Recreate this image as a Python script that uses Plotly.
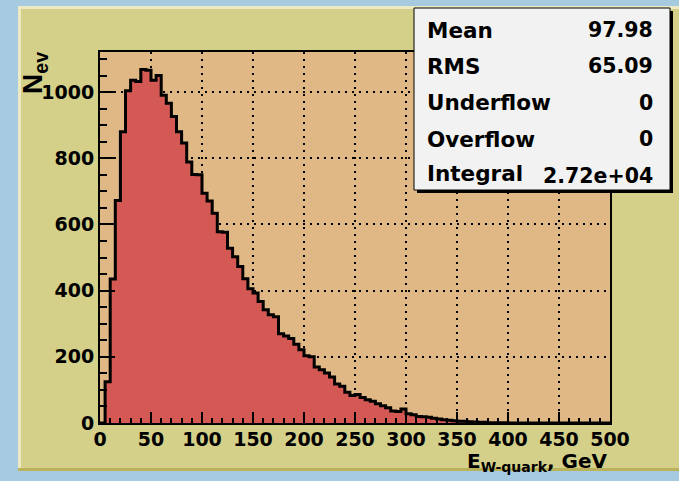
import numpy as np
import plotly.graph_objects as go

# Histogram of the W-quark energy: 100 bins of 5 GeV between 0 and 500 GeV
X_MIN, X_MAX, BIN_WIDTH = 0, 500, 5
counts = [
    0, 125, 435, 672, 880, 1004, 1036, 1032, 1068, 1066,
    1036, 1050, 990, 966, 926, 880, 846, 789, 751, 750,
    694, 671, 634, 578, 576, 528, 502, 473, 436, 406,
    393, 367, 342, 327, 321, 270, 263, 255, 238, 221,
    203, 200, 169, 161, 151, 139, 118, 111, 93, 83,
    86, 77, 70, 66, 58, 52, 46, 36, 35, 42,
    28, 25, 20, 19, 17, 14, 12, 10, 8, 7,
    5, 5, 4, 3, 2, 2, 1, 1, 1, 1,
    0, 0, 0, 0, 0, 0, 0, 0, 0, 0,
    0, 0, 0, 0, 0, 0, 0, 0, 0, 0,
]
y_max = 1121

stat_names = ["Mean", "RMS", "Underflow", "Overflow", "Integral"]
stat_values = ["97.98", "65.09", "0", "0", "2.72e+04"]

x_title = "E<sub>W-quark</sub>, GeV"
y_title = "N<sub>ev</sub>"

# colours
BLUE_BG = "#a6cbe0"
PAD = "#d4d089"
PAD_EDGE = "#ece9c3"
PAD_LOW = "#b9b25a"
FRAME = "#dfb886"
FILL = "#d45853"
STATS_BG = "#f2f2f2"

W, H = 679, 481
L, R, T, B = 100, 610, 52, 423


def px(p):
    return (p - L) / (R - L)


def py(p):
    return (B - p) / (B - T)


edges = np.arange(X_MIN, X_MAX + BIN_WIDTH, BIN_WIDTH)
xs = [X_MIN] + list(edges[:-1]) + [X_MAX, X_MAX]
ys = [0] + counts + [counts[-1], 0]

fig = go.Figure()
fig.add_trace(go.Scatter(
    x=xs, y=ys, mode="lines", line=dict(color="black", width=3, shape="hv"),
    fill="tozeroy", fillcolor=FILL, hoverinfo="skip", showlegend=False,
    cliponaxis=False,
))

shapes = [
    # pad with light bevel and darker bottom edge
    dict(type="rect", xref="paper", yref="paper", x0=px(18), x1=px(690), y0=py(6), y1=py(471),
         fillcolor=PAD_EDGE, line=dict(width=0), layer="below"),
    dict(type="rect", xref="paper", yref="paper", x0=px(21), x1=px(690), y0=py(9), y1=py(471),
         fillcolor=PAD, line=dict(width=0), layer="below"),
    dict(type="rect", xref="paper", yref="paper", x0=px(18), x1=px(690), y0=py(468), y1=py(471),
         fillcolor=PAD_LOW, line=dict(width=0), layer="below"),
    # frame
    dict(type="rect", xref="paper", yref="paper", x0=0, x1=1, y0=0, y1=1,
         fillcolor=FRAME, line=dict(width=0), layer="below"),
    # statistics box with its shadow
    dict(type="rect", xref="paper", yref="paper", x0=px(417), x1=px(673), y0=py(11), y1=py(193),
         fillcolor="black", line=dict(width=0), layer="above"),
    dict(type="rect", xref="paper", yref="paper", x0=px(414), x1=px(670), y0=py(8), y1=py(190),
         fillcolor=STATS_BG, line=dict(color="black", width=1), layer="above"),
]

annotations = []
row_y = [30, 66, 103, 139, 173]
for i, (name, val) in enumerate(zip(stat_names, stat_values)):
    annotations.append(dict(
        x=px(425), y=py(row_y[i]), xref="paper", yref="paper", text=name,
        showarrow=False, xanchor="left", yanchor="middle",
        font=dict(family="DejaVu Sans", size=21.5, color="black", weight="bold"),
    ))
    annotations.append(dict(
        x=px(655), y=py(row_y[i] + (3 if i == 4 else 0)), xref="paper", yref="paper", text=val,
        showarrow=False, xanchor="right", yanchor="middle",
        font=dict(family="DejaVu Sans", size=20.5, color="black", weight="bold"),
    ))

annotations.append(dict(
    x=px(609), y=py(462), xref="paper", yref="paper", text=x_title,
    showarrow=False, xanchor="right", yanchor="middle",
    font=dict(family="DejaVu Sans", size=20, color="black", weight="bold"),
))
annotations.append(dict(
    x=px(35), y=py(50), xref="paper", yref="paper", text=y_title, textangle=-90,
    showarrow=False, xanchor="center", yanchor="top",
    font=dict(family="Liberation Sans", size=28, color="black", weight="bold"),
))

tickfont = dict(family="DejaVu Sans", size=19, color="black", weight="bold")

fig.update_layout(
    width=W, height=H,
    margin=dict(l=L, r=W - R, t=T, b=H - B),
    paper_bgcolor=BLUE_BG, plot_bgcolor="rgba(0,0,0,0)",
    shapes=shapes, annotations=annotations,
    xaxis=dict(
        range=[X_MIN, X_MAX], dtick=50, tick0=0, ticks="inside", ticklen=11, tickwidth=2,
        tickcolor="black", showline=True, linecolor="black", linewidth=2, mirror=True,
        showgrid=True, gridcolor="black", gridwidth=1.5, griddash="2px,5px",
        zeroline=False, tickfont=tickfont, ticklabelstandoff=-2,
        minor=dict(dtick=10, ticks="inside", ticklen=5, tickwidth=2, tickcolor="black", showgrid=False),
    ),
    yaxis=dict(
        range=[0, y_max], dtick=200, tick0=0, ticks="inside", ticklen=15, tickwidth=2,
        tickcolor="black", showline=True, linecolor="black", linewidth=2, mirror=True,
        showgrid=True, gridcolor="black", gridwidth=1.5, griddash="2px,5px",
        zeroline=False, tickfont=tickfont,
        minor=dict(dtick=50, ticks="inside", ticklen=7, tickwidth=2, tickcolor="black", showgrid=False),
    ),
)

fig.write_html("out.html")
